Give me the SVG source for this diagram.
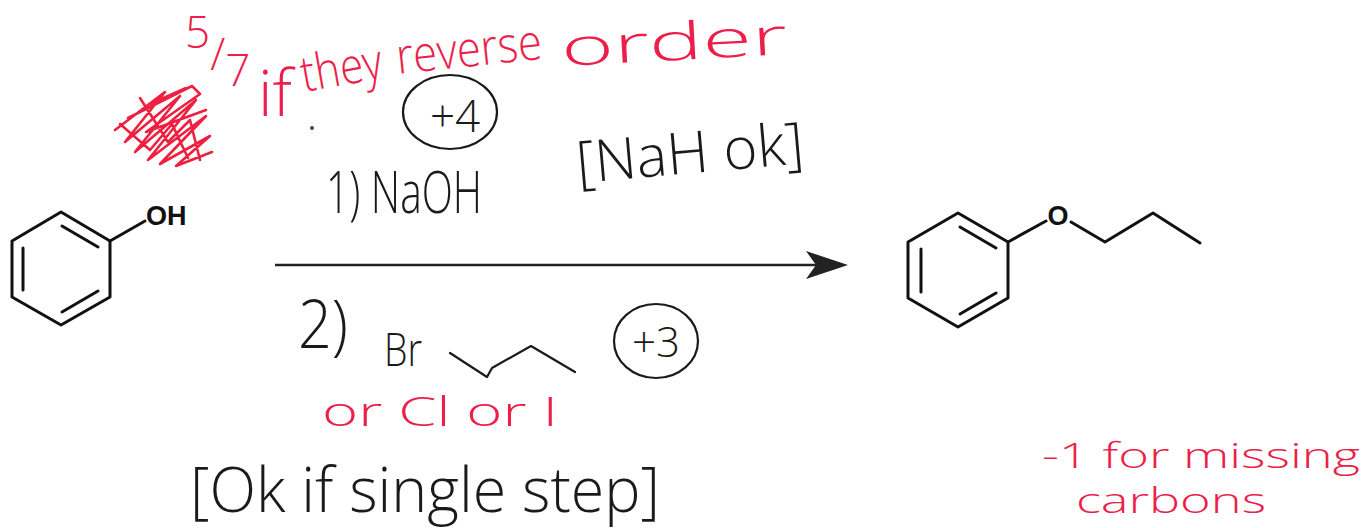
<svg xmlns="http://www.w3.org/2000/svg" width="1364" height="528" viewBox="0 0 1364 528">
<style>
.bond{stroke:#111;stroke-width:3;fill:none;stroke-linecap:round;stroke-linejoin:round}
.atom{font-family:"Liberation Sans",Arial,sans-serif;font-weight:bold;fill:#111}
.hand{font-family:"Open Sans","Liberation Sans",sans-serif;font-weight:300;fill:#1a1a1a}
.red{font-family:"Open Sans","Liberation Sans",sans-serif;font-weight:300;fill:#ec1f4b}
.ink{stroke:#1a1a1a;stroke-width:2.2;fill:none;stroke-linecap:round;stroke-linejoin:round}
.rink{stroke:#ee2040;stroke-width:2.6;fill:none;stroke-linecap:round;stroke-linejoin:round}
</style>
<rect width="1364" height="528" fill="#fff"/>

<g id="reactant">
<polygon class="bond" points="61,212 110,241 110,297 61,325 12,297 12,241"/>
<line class="bond" x1="62" y1="226" x2="98" y2="247"/>
<line class="bond" x1="23" y1="248" x2="23" y2="290"/>
<line class="bond" x1="62" y1="312" x2="98" y2="291"/>
<line class="bond" x1="110" y1="241" x2="145" y2="221"/>
<text class="atom" x="146" y="225" font-size="27">OH</text>
</g>

<g id="product">
<polygon class="bond" points="958,213 1008,242 1008,298 958,327 908,298 908,242"/>
<line class="bond" x1="960" y1="227" x2="996" y2="248"/>
<line class="bond" x1="921" y1="249" x2="921" y2="292"/>
<line class="bond" x1="960" y1="314" x2="996" y2="293"/>
<line class="bond" x1="1008" y1="242" x2="1046" y2="221"/>
<polyline class="bond" points="1071,222 1105,242 1153,213 1200,243"/>
<text class="atom" x="1058" y="225" font-size="27" text-anchor="middle" font-weight="normal">O</text>
</g>

<g id="connectors">
<line x1="275" y1="265" x2="820" y2="265" stroke="#222" stroke-width="2.5"/>
<polygon points="848,265 806,251 816,265 806,279" fill="#222"/>
</g>

<g id="reagent1">
<text class="hand" x="326" y="213" font-size="58" textLength="156" lengthAdjust="spacingAndGlyphs">1) NaOH</text>
<text class="hand" x="578" y="183" font-size="58" textLength="228" lengthAdjust="spacingAndGlyphs" transform="rotate(-5 578 183)">[NaH ok]</text>
<ellipse class="ink" cx="450" cy="112" rx="47" ry="37"/>
<text class="hand" x="455" y="132" font-size="44" text-anchor="middle" font-weight="400">+4</text>
</g>

<g id="reagent2">
<text class="hand" x="298" y="348" font-size="66" textLength="50" lengthAdjust="spacingAndGlyphs">2)</text>
<text class="hand" x="384" y="366" font-size="46" textLength="38" lengthAdjust="spacingAndGlyphs">Br</text>
<polyline class="ink" points="450,353 487,377 492,368 531,346 575,372"/>
<ellipse class="ink" cx="656" cy="341" rx="42" ry="37"/>
<text class="hand" x="656" y="357" font-size="42" text-anchor="middle" font-weight="400">+3</text>
<text class="red" x="322" y="426" font-size="40" textLength="236" lengthAdjust="spacingAndGlyphs">or Cl or I</text>
<text class="hand" x="190" y="512" font-size="62" textLength="470" lengthAdjust="spacingAndGlyphs">[Ok if single step]</text>
</g>

<g id="grading">
<text class="red" x="185" y="48" font-size="44">5<tspan dy="22">/</tspan><tspan dy="16">7</tspan></text>
<path class="rink" d="M115,130 L165,92 L125,142 L180,96 L135,152 L196,100 L148,160 L206,116 L160,164 L210,136 L176,166 L212,152 M128,118 L192,86 L200,94 L146,132 L206,110 M140,98 L168,142 L190,120 L200,160 M150,104 L186,88 M120,124 L150,150 L172,124 L188,158"/>
<text class="red" x="258" y="116" font-size="64" textLength="34" lengthAdjust="spacingAndGlyphs">if</text>
<text class="red" x="304" y="92" font-size="50" textLength="82" lengthAdjust="spacingAndGlyphs" transform="rotate(-10 304 92)">they</text>
<text class="red" x="398" y="74" font-size="50" textLength="146" lengthAdjust="spacingAndGlyphs" transform="rotate(-6 398 74)">reverse</text>
<text class="red" x="562" y="66" font-size="52" textLength="226" lengthAdjust="spacingAndGlyphs" transform="rotate(-3 562 66)">order</text>
<circle cx="312" cy="128" r="2" fill="#444"/>
<text class="red" x="1042" y="468" font-size="34" textLength="318" lengthAdjust="spacingAndGlyphs">-1 for missing</text>
<text class="red" x="1076" y="513" font-size="34" textLength="190" lengthAdjust="spacingAndGlyphs">carbons</text>
</g>
</svg>
